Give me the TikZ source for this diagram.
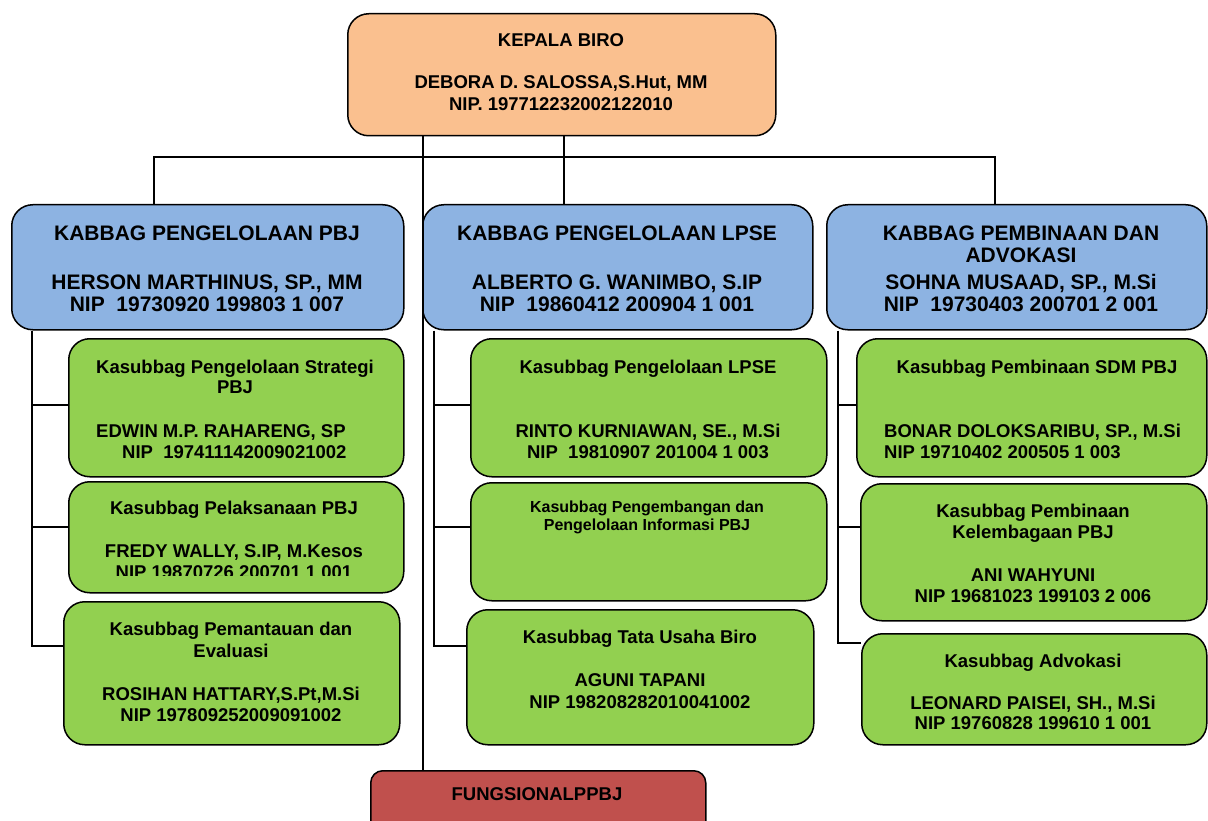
\documentclass[tikz,border=0pt]{standalone}
\usepackage{fontspec}
\setmainfont{Liberation Sans}
\definecolor{kborange}{HTML}{FAC08F}
\definecolor{kbblue}{HTML}{8DB3E2}
\definecolor{kbgreen}{HTML}{92D050}
\definecolor{kbred}{HTML}{C0504D}
\tikzset{
  box/.style={draw=black, line width=1.5pt, rounded corners=21pt, inner sep=0pt, anchor=north west},
  headbox/.style={box, fill=kborange},
  bluebox/.style={box, fill=kbblue},
  greenbox/.style={box, fill=kbgreen},
  redbox/.style={box, fill=kbred, rounded corners=12pt},
  conn/.style={draw=black, line width=1.5pt},
  txt/.style={font=\fontsize{18.5}{22}\selectfont\bfseries, anchor=base, inner sep=0pt},
  txtw/.style={txt, anchor=base west},
  bigtxt/.style={txt, font=\fontsize{21}{24}\selectfont\bfseries},
  smalltxt/.style={txt, font=\fontsize{16}{18}\selectfont\bfseries}
}
\begin{document}
\begin{tikzpicture}[x=1pt,y=-1pt]
\clip (0,0) rectangle (1208,821);
\fill[white] (0,0) rectangle (1208,821);

\coordinate (vf) at (423,0);
\coordinate (vm) at (564,157);
\coordinate (bl) at (154,157);
\coordinate (br) at (995,157);

% boxes
\node[headbox, minimum width=428pt, minimum height=122pt] (kb) at (347,13) {};
\node[bluebox, minimum width=392pt, minimum height=125pt] (b1) at (11,204) {};
\node[bluebox, minimum width=390pt, minimum height=125pt] (b2) at (422,204) {};
\node[bluebox, minimum width=380pt, minimum height=125pt] (b3) at (826,204) {};

\node[greenbox, minimum width=335pt, minimum height=138pt] (g11) at (68,338) {};
\node[greenbox, minimum width=335pt, minimum height=111pt] (g12) at (68,481) {};
\node[greenbox, minimum width=336pt, minimum height=143pt] (g13) at (63,601) {};

\node[greenbox, minimum width=356pt, minimum height=138pt] (g21) at (470,338) {};
\node[greenbox, minimum width=356pt, minimum height=118pt] (g22) at (470,482) {};
\node[greenbox, minimum width=347pt, minimum height=135pt] (g23) at (466,609) {};

\node[greenbox, minimum width=350pt, minimum height=138pt] (g31) at (856,338) {};
\node[greenbox, minimum width=346pt, minimum height=137pt] (g32) at (860,483) {};
\node[greenbox, minimum width=345pt, minimum height=111pt] (g33) at (861,633) {};

\node[redbox, minimum width=335pt, minimum height=70pt] (fp) at (370,770) {};

% connectors
\draw[conn] (kb.south -| vf) -- (fp.north -| vf);
\draw[conn] (kb.south -| vm) -- (b2.north -| vm);
\draw[conn] (b1.north -| bl) -- (bl) -- (br) -- (b3.north -| br);

\draw[conn] (b1.south -| 32,0) |- (g13.west |- 0,646);
\draw[conn] (g11.west |- 0,405) -- ++(-36,0);
\draw[conn] (g12.west |- 0,527) -- ++(-36,0);

\draw[conn] (b2.south -| 434,0) |- (g23.west |- 0,646);
\draw[conn] (g21.west |- 0,405) -- ++(-36,0);
\draw[conn] (g22.west |- 0,527) -- ++(-36,0);

\draw[conn] (b3.south -| 838,0) |- (g33.west |- 0,643);
\draw[conn] (g31.west |- 0,405) -- ++(-18,0);
\draw[conn] (g32.west |- 0,527) -- ++(-22,0);

% texts: head
\node[txt] (t0a) at (561,47) {KEPALA BIRO};
\node[txt] (t0b) at (561,89) {DEBORA D. SALOSSA,S.Hut, MM};
\node[txt] (t0c) at (561,111) {NIP. 197712232002122010};

% blue
\node[bigtxt] (t1a) at (207,241) {KABBAG PENGELOLAAN PBJ};
\node[bigtxt] (t1b) at (207,290) {HERSON MARTHINUS, SP., MM};
\node[bigtxt] (t1c) at (207,312) {NIP\ \ 19730920 199803 1 007};

\node[bigtxt] (t2a) at (617,241) {KABBAG PENGELOLAAN LPSE};
\node[bigtxt] (t2b) at (617,290) {ALBERTO G. WANIMBO, S.IP};
\node[bigtxt] (t2c) at (617,312) {NIP\ \ 19860412 200904 1 001};

\node[bigtxt] (t3a) at (1021,241) {KABBAG PEMBINAAN DAN};
\node[bigtxt] (t3b) at (1021,263) {ADVOKASI};
\node[bigtxt] (t3c) at (1021,290) {SOHNA MUSAAD, SP., M.Si};
\node[bigtxt] (t3d) at (1021,312) {NIP\ \ 19730403 200701 2 001};

% green left
\node[txt] (a1) at (235,373) {Kasubbag Pengelolaan Strategi};
\node[txt] (a2) at (235,393) {PBJ};
\node[txtw] (a3) at (96,437) {EDWIN M.P. RAHARENG, SP};
\node[txtw] (a4) at (122,458) {NIP\ \ 197411142009021002};

\node[txt] (b1t) at (234,514) {Kasubbag Pelaksanaan PBJ};
\node[txt] (b2t) at (234,557) {FREDY WALLY, S.IP, M.Kesos};
\begin{scope}
\clip (g12.north west) rectangle (g12.east |- 0,575);
\node[txt] (b3t) at (234,578.5) {NIP 19870726 200701 1 001};
\end{scope}

\node[txt] (c1) at (231,635) {Kasubbag Pemantauan dan};
\node[txt] (c2) at (231,657) {Evaluasi};
\node[txt] (c3) at (231,700) {ROSIHAN HATTARY,S.Pt,M.Si};
\node[txt] (c4) at (231,721) {NIP 197809252009091002};

% green middle
\node[txt] (d1) at (648,373) {Kasubbag Pengelolaan LPSE};
\node[txt] (d2) at (648,437) {RINTO KURNIAWAN, SE., M.Si};
\node[txt] (d3) at (648,458) {NIP\ \ 19810907 201004 1 003};

\node[smalltxt] (e1) at (647,512) {Kasubbag Pengembangan dan};
\node[smalltxt] (e2) at (647,530) {Pengelolaan Informasi PBJ};

\node[txt] (f1) at (640,643) {Kasubbag Tata Usaha Biro};
\node[txt] (f2) at (640,686) {AGUNI TAPANI};
\node[txt] (f3) at (640,708) {NIP 198208282010041002};

% green right
\node[txt] (h1) at (1037,373) {Kasubbag Pembinaan SDM PBJ};
\node[txtw] (h2) at (884,437) {BONAR DOLOKSARIBU, SP., M.Si};
\node[txtw] (h3) at (884,458) {NIP 19710402 200505 1 003};

\node[txt] (i1) at (1033,517) {Kasubbag Pembinaan};
\node[txt] (i2) at (1033,538) {Kelembagaan PBJ};
\node[txt] (i3) at (1033,581) {ANI WAHYUNI};
\node[txt] (i4) at (1033,602) {NIP 19681023 199103 2 006};

\node[txt] (j1) at (1033,667) {Kasubbag Advokasi};
\node[txt] (j2) at (1033,709) {LEONARD PAISEI, SH., M.Si};
\node[txt] (j3) at (1033,729) {NIP 19760828 199610 1 001};

% red
\node[txt] (k1) at (537,800) {FUNGSIONALPPBJ};
\end{tikzpicture}
\end{document}
